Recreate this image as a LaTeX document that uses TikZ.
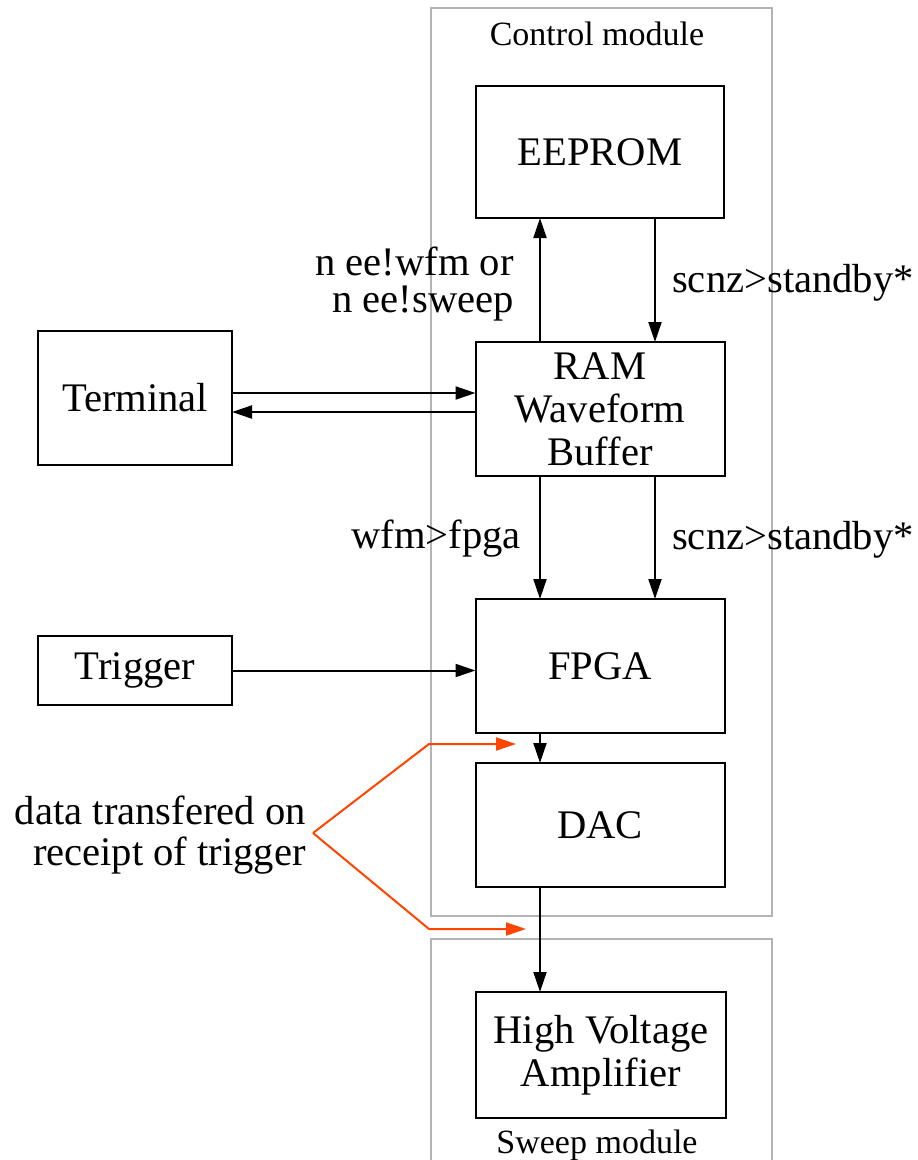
\documentclass[tikz,border=0pt]{standalone}
\usepackage{fontspec}
\setmainfont{Liberation Serif}
\usetikzlibrary{arrows.meta,calc}
\definecolor{clustergray}{HTML}{B3B3B3}
\definecolor{notecolor}{HTML}{FF4500}
\begin{document}
\begin{tikzpicture}[x=1pt,y=-1pt,
  blockbox/.style={draw,line width=2pt,inner sep=0pt,outer sep=0pt,align=center,
    font=\fontsize{40.6}{43}\selectfont},
  cluster/.style={draw=clustergray,line width=2pt},
  clusterlabel/.style={font=\fontsize{34}{40}\selectfont,inner sep=0pt},
  edgelabel/.style={font=\fontsize{40.6}{37}\selectfont,inner sep=0pt},
  arr/.style={line width=2pt,-{Triangle[length=20pt,width=13pt]}},
  notearr/.style={draw=notecolor,line width=2pt,-{Triangle[length=20pt,width=13pt]}}]
\useasboundingbox (0,0) rectangle (918,1160);

% module frames
\draw[cluster] (431,8) rectangle (772,916);
\draw[cluster] (431,1170) -- (431,939) -- (772,939) -- (772,1170);
\node[clusterlabel,anchor=base] (ctrllbl) at (597,45) {Control module};
\node[clusterlabel,anchor=base] (sweeplbl) at (597,1153) {Sweep module};

% blocks
\node[blockbox,minimum width=248pt,minimum height=132pt] (eeprom) at (600,152) {EEPROM};
\node[blockbox,minimum width=249pt,minimum height=134pt] (ram) at (600,409) {RAM\\Waveform\\Buffer};
\node[blockbox,minimum width=249pt,minimum height=134pt] (fpga) at (600,666) {FPGA};
\node[blockbox,minimum width=249pt,minimum height=124pt] (dac) at (600,825) {DAC};
\node[blockbox,minimum width=250pt,minimum height=126pt] (hva) at (601,1055) {High Voltage\\Amplifier};
\node[blockbox,minimum width=194pt,minimum height=134pt] (terminal) at (135,398) {Terminal};
\node[blockbox,minimum width=194pt,minimum height=69pt] (trigger) at (135,670.5) {Trigger};

% EEPROM <-> RAM
\draw[arr] ([xshift=-60pt]ram.north) -- ([xshift=-60pt]eeprom.south);
\draw[arr] ([xshift=55pt]eeprom.south) -- ([xshift=55pt]ram.north);
\node[edgelabel,align=right,anchor=east] (eelbl) at (514,284) {n ee!wfm or\\n ee!sweep};
\node[edgelabel,anchor=base west] (stby1) at (672,292) {scnz>standby*};

% Terminal <-> RAM
\draw[arr] ([yshift=5pt]terminal.east) -- ([yshift=5pt]terminal.east -| ram.west);
\draw[arr] ([yshift=-14pt]terminal.east -| ram.west) -- ([yshift=-14pt]terminal.east);

% RAM -> FPGA
\draw[arr] ([xshift=-60pt]ram.south) -- ([xshift=-60pt]fpga.north);
\draw[arr] ([xshift=55pt]ram.south) -- ([xshift=55pt]fpga.north);
\node[edgelabel,anchor=base east] (wfmlbl) at (521,548) {wfm>fpga};
\node[edgelabel,anchor=base west] (stby2) at (672,549) {scnz>standby*};

% Trigger -> FPGA
\draw[arr] (trigger.east) -- (trigger.east -| fpga.west);

% FPGA -> DAC -> amplifier
\draw[arr] ([xshift=-60pt]fpga.south) -- ([xshift=-60pt]dac.north);
\draw[arr] ([xshift=-60pt]dac.south) -- (hva.north -| {$(dac.south)+(-60,0)$});

% trigger note
\node[edgelabel,font=\fontsize{40.6}{41}\selectfont,align=right,anchor=east] (note) at (306,835)
  {data transfered on\\receipt of trigger};
\coordinate (fork) at (313,833);
\coordinate (upbend) at (429,744);
\coordinate (uptip) at (516,744);
\coordinate (lowbend) at (429,929);
\coordinate (lowtip) at (526,929);
\draw[notearr] (fork) -- (upbend) -- (uptip);
\draw[notearr] (fork) -- (lowbend) -- (lowtip);
\end{tikzpicture}
\end{document}
